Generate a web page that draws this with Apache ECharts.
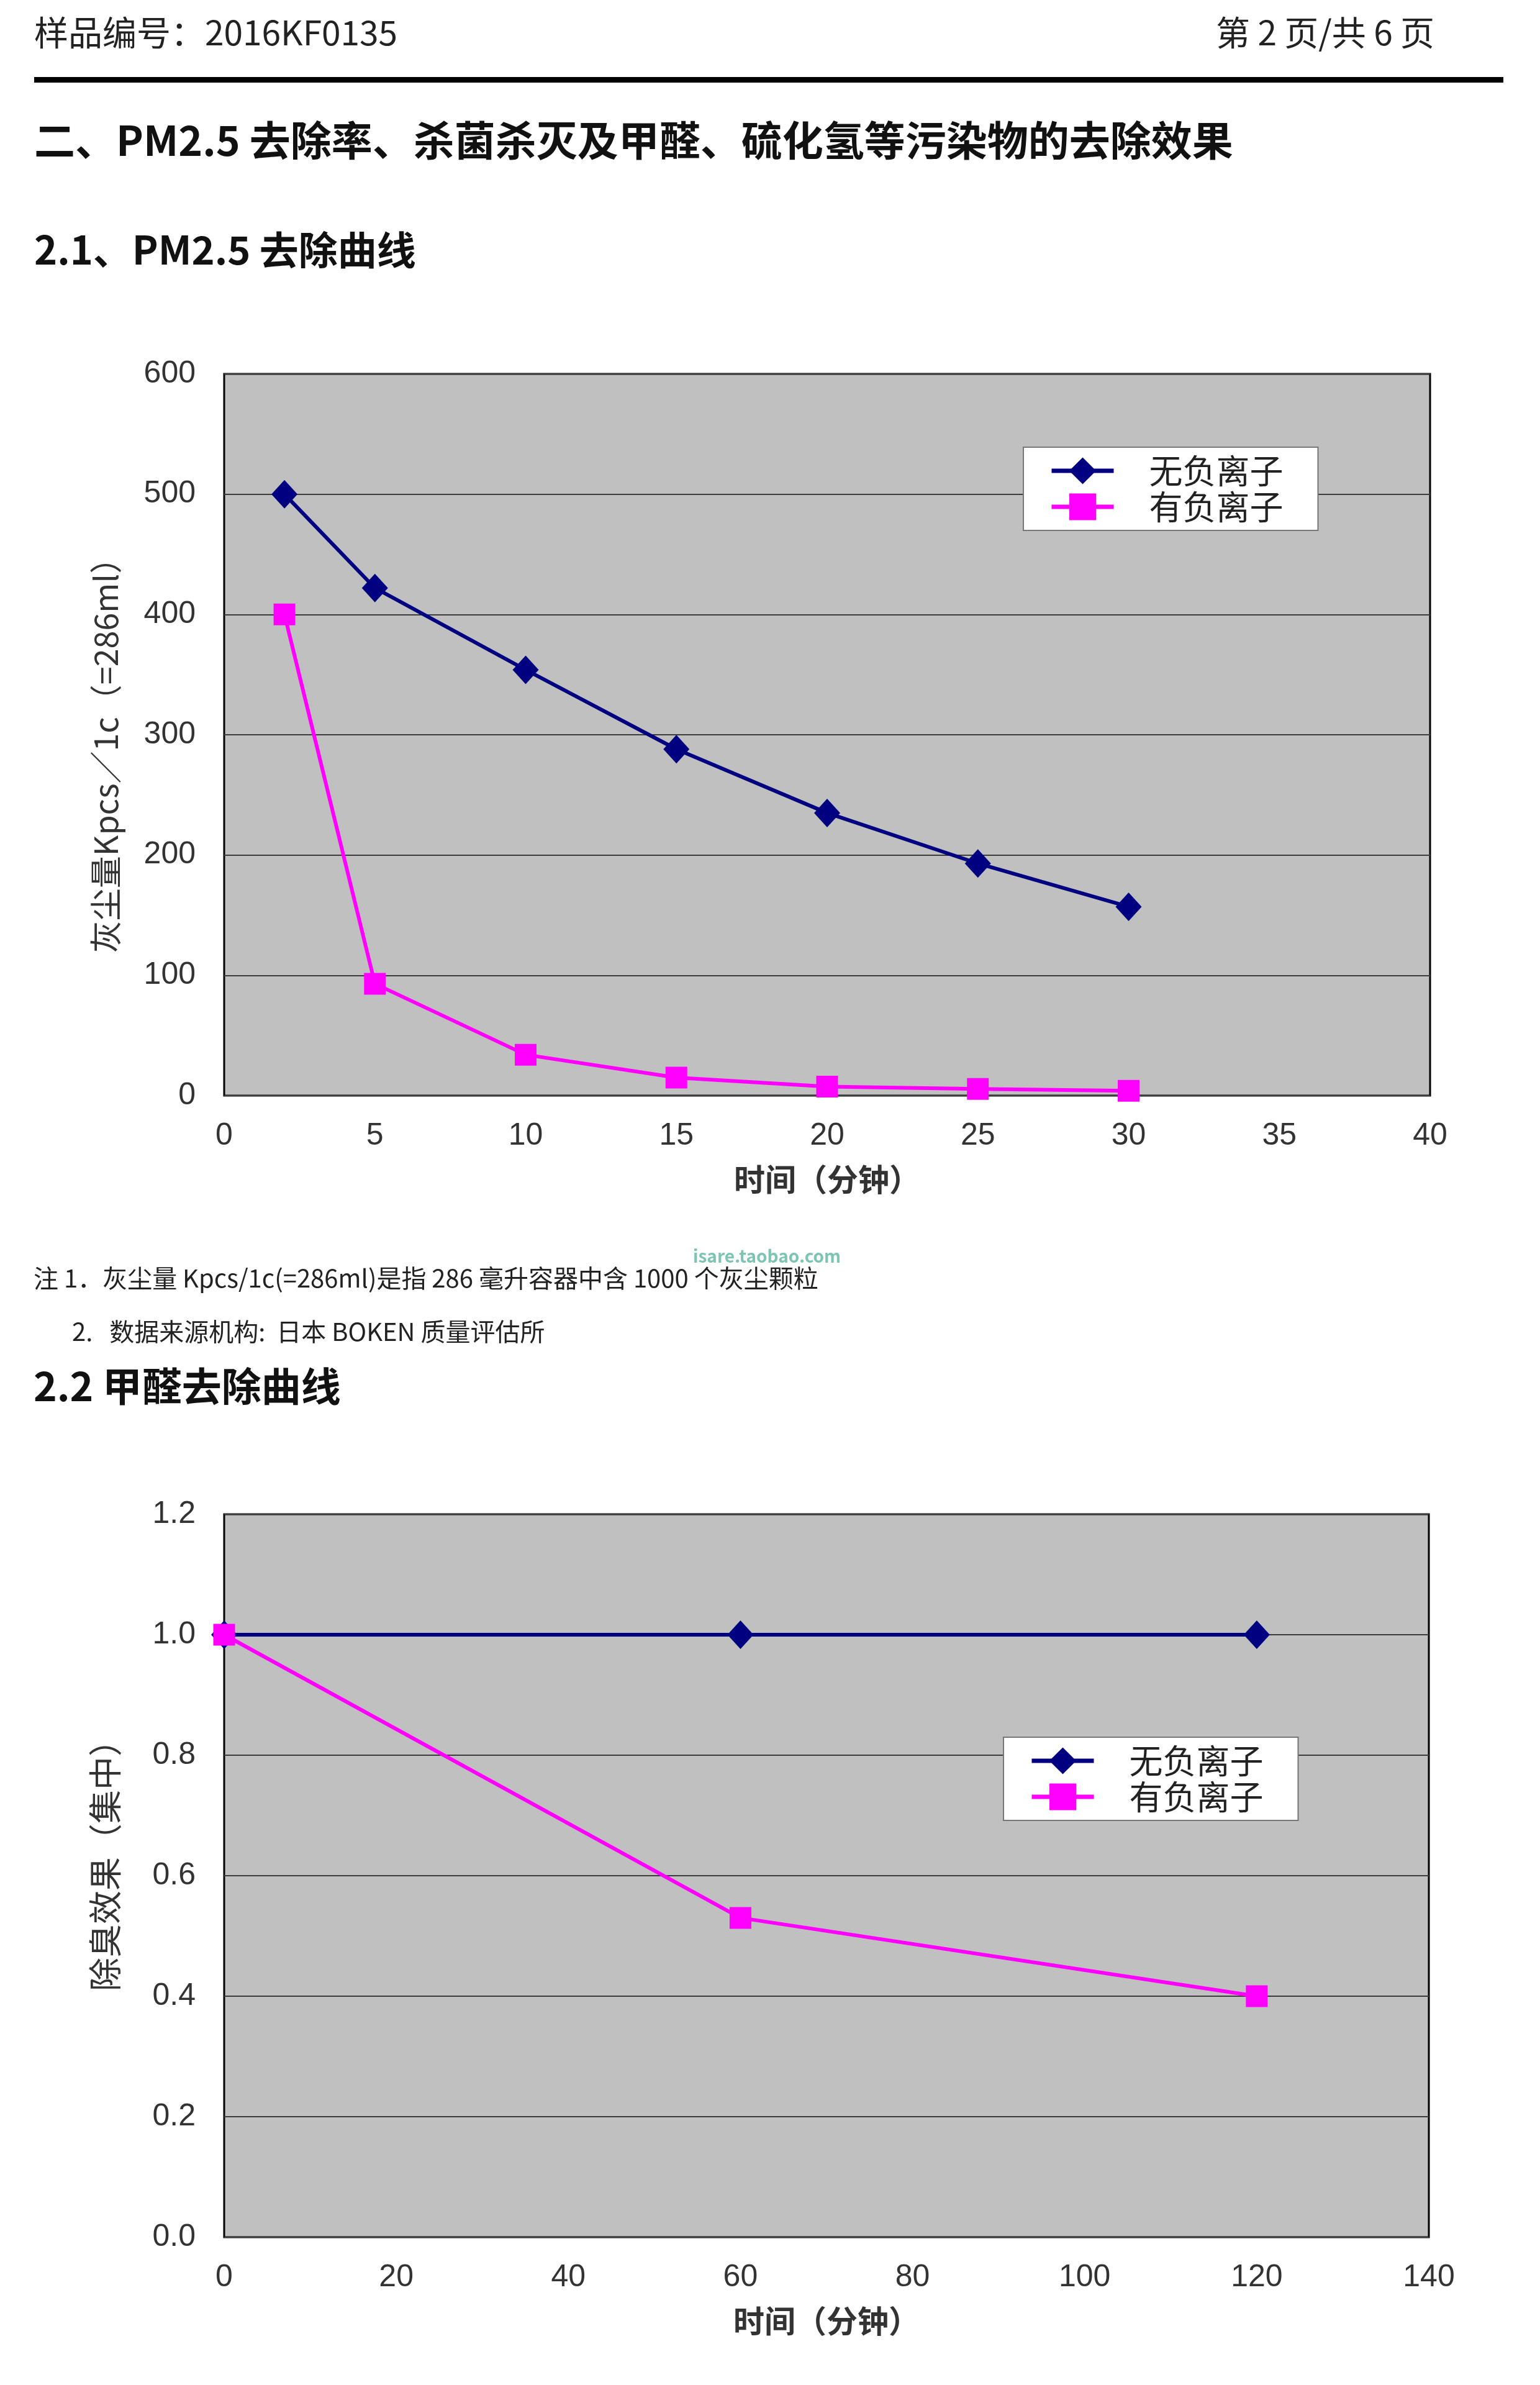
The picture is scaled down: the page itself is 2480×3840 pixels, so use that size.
<!DOCTYPE html>
<html>
<head>
<meta charset="utf-8">
<title>PM2.5 / 甲醛去除曲线</title>
<script src="https://cdn.jsdelivr.net/npm/echarts@6/dist/echarts.min.js"></script>
<style>
    html, body { margin: 0; padding: 0; background: #fff; }
    #page { width: 2480px; height: 3840px; }
</style>
</head>
<body>
<div id="page"></div>
<script>
// 系列名称
var seriesNames = ["无负离子", "有负离子"];
// 2.1 PM2.5 去除曲线 (时间: 分钟, 灰尘量)
var pmTime = [2, 5, 10, 15, 20, 25, 30];
var pmNoIon = [500, 422, 354, 288, 235, 193, 157];
var pmIon = [400, 93, 34, 15, 7.5, 5.5, 4];
// 2.2 甲醛去除曲线 (时间: 分钟, 除臭效果)
var hchoTime = [0, 60, 120];
var hchoNoIon = [1.0, 1.0, 1.0];
var hchoIon = [1.0, 0.53, 0.40];

var NAVY = "#000080";
var MAGENTA = "#ff00ff";
var CJK = "Noto Sans CJK SC";
var NUM = "Liberation Sans";

function pairs(xs, ys) {
    return xs.map(function(x, i) { return [x, ys[i]]; });
}

// 坐标轴公共样式
function xAxisOf(gridIndex, max, interval) {
    return {
        type: "value",
        gridIndex: gridIndex,
        min: 0,
        max: max,
        interval: interval,
        name: "时间（分钟）",
        nameLocation: "middle",
        nameGap: 110,
        nameTextStyle: { fontFamily: CJK, fontSize: 50, fontWeight: "bold", color: "#333" },
        axisLine: { show: false },
        axisTick: { show: false },
        splitLine: { show: false },
        axisLabel: { fontFamily: NUM, fontSize: 50, color: "#333", margin: 40 }
    };
}

function yAxisOf(gridIndex, max, interval, name, size, fmt, pad) {
    return {
        type: "value",
        gridIndex: gridIndex,
        min: 0,
        max: max,
        interval: interval,
        name: name,
        nameLocation: "middle",
        nameGap: 165,
        nameTextStyle: { fontFamily: CJK, fontSize: size, color: "#333", padding: pad },
        axisLine: { show: false },
        axisTick: { show: false },
        splitLine: { lineStyle: { color: "#3c3c3c", width: 2 } },
        axisLabel: { fontFamily: NUM, fontSize: 50, color: "#333", margin: 46, formatter: fmt }
    };
}

function lineSeries(name, idx, data, color, symbol, size) {
    return {
        name: name,
        type: "line",
        xAxisIndex: idx,
        yAxisIndex: idx,
        data: data,
        symbol: symbol,
        symbolSize: size,
        showSymbol: true,
        clip: false,
        color: color,
        lineStyle: { color: color, width: 6 },
        itemStyle: { color: color },
        emphasis: { disabled: true }
    };
}

function legendOf(left, top) {
    return {
        show: true,
        orient: "vertical",
        left: left,
        top: top,
        data: seriesNames,
        itemWidth: 100,
        itemHeight: 54,
        itemGap: 4,
        backgroundColor: "#fff",
        borderColor: "#777",
        borderWidth: 2,
        padding: [11, 56, 11, 42],
        selectedMode: false,
        lineStyle: { width: 7 },
        textStyle: { fontFamily: CJK, fontSize: 54, color: "#222", padding: [0, 0, 0, 52] }
    };
}

function txt(x, y, text, size, opts) {
    opts = opts || {};
    return {
        type: "text",
        x: x,
        y: y,
        style: {
            text: text,
            fontFamily: CJK,
            fontSize: size,
            fontWeight: opts.bold ? "bold" : "normal",
            fill: opts.color || "#111",
            align: opts.align || "left",
            verticalAlign: "middle"
        }
    };
}

var myChart = echarts.init(document.getElementById("page"));

var option = {
    animation: false,
    backgroundColor: "#fff",
    grid: [
        { left: 361, top: 602, width: 1942, height: 1162, show: true, backgroundColor: "#c0c0c0", borderColor: "#000", borderWidth: 3 },
        { left: 361, top: 2438, width: 1940, height: 1164, show: true, backgroundColor: "#c0c0c0", borderColor: "#000", borderWidth: 3 }
    ],
    xAxis: [xAxisOf(0, 40, 5), xAxisOf(1, 140, 20)],
    yAxis: [
        yAxisOf(0, 600, 100, "灰尘量Kpcs／1c（=286ml）", 52, null, [0, 40, 0, 0]),
        yAxisOf(1, 1.2, 0.2, "除臭效果（集中）", 54, function(v) { return v.toFixed(1); }, [0, 0, 0, 60])
    ],
    legend: [legendOf(1648, 720), legendOf(1616, 2797)],
    series: [
        lineSeries(seriesNames[0], 0, pairs(pmTime, pmNoIon), NAVY, "diamond", [42, 46]),
        lineSeries(seriesNames[1], 0, pairs(pmTime, pmIon), MAGENTA, "rect", 35),
        lineSeries(seriesNames[0], 1, pairs(hchoTime, hchoNoIon), NAVY, "diamond", [42, 46]),
        lineSeries(seriesNames[1], 1, pairs(hchoTime, hchoIon), MAGENTA, "rect", 35)
    ],
    graphic: [
        txt(55, 52, "样品编号：2016KF0135", 55, { color: "#222" }),
        txt(2310, 52, "第 2 页/共 6 页", 55, { color: "#222", align: "right" }),
        { type: "rect", shape: { x: 55, y: 124, width: 2366, height: 9 }, style: { fill: "#000" } },
        txt(55, 226, "二、PM2.5 去除率、杀菌杀灭及甲醛、硫化氢等污染物的去除效果", 66, { bold: true }),
        txt(55, 402, "2.1、PM2.5 去除曲线", 63, { bold: true }),
        txt(1116, 2022, "isare.taobao.com", 28, { bold: true, color: "#7cc4b4" }),
        txt(54, 2058, "注 1．灰尘量 Kpcs/1c(=286ml)是指 286 毫升容器中含 1000 个灰尘颗粒", 40, { color: "#222" }),
        txt(116, 2144, "2.   数据来源机构:  日本 BOKEN 质量评估所", 40, { color: "#222" }),
        txt(54, 2232, "2.2 甲醛去除曲线", 64, { bold: true })
    ]
};

myChart.setOption(option);
window.addEventListener("resize", function() {
    myChart.resize();
});
</script>
</body>
</html>
